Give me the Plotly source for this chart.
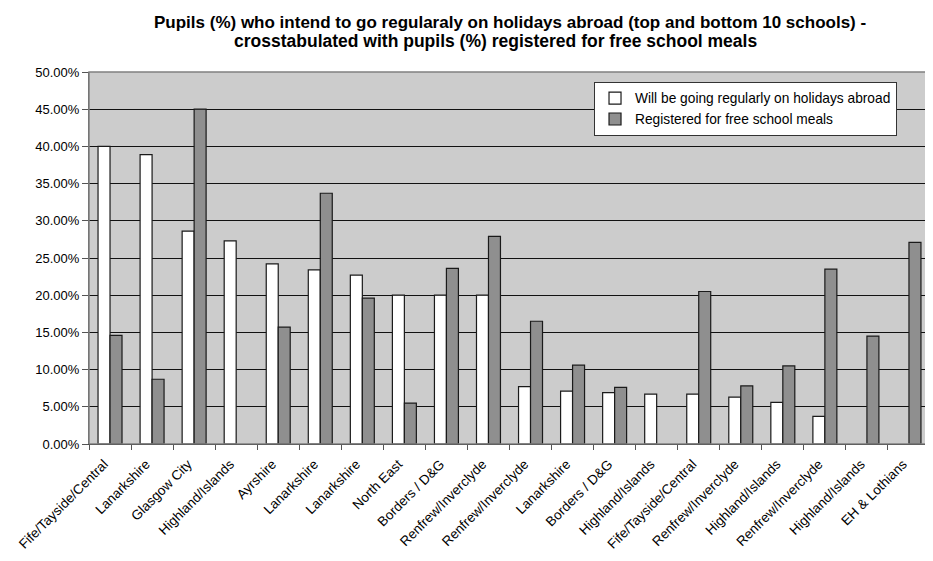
import plotly.graph_objects as go

categories = ["Fife/Tayside/Central", "Lanarkshire", "Glasgow City", "Highland/Islands",
              "Ayrshire", "Lanarkshire", "Lanarkshire", "North East", "Borders / D&G",
              "Renfrew/Inverclyde", "Renfrew/Inverclyde", "Lanarkshire", "Borders / D&G",
              "Highland/Islands", "Fife/Tayside/Central", "Renfrew/Inverclyde",
              "Highland/Islands", "Renfrew/Inverclyde", "Highland/Islands", "EH & Lothians"]

# None = no bar shown in the reference
holidays_abroad = [40.0, 38.9, 28.6, 27.3, 24.2, 23.4, 22.7, 20.0, 20.0, 20.0,
                   7.7, 7.1, 6.9, 6.7, 6.7, 6.3, 5.6, 3.7, None, None]

free_school_meals = [14.6, 8.7, 45.0, None, 15.7, 33.7, 19.6, 5.5, 23.6, 27.9,
                     16.5, 10.6, 7.6, None, 20.5, 7.8, 10.5, 23.5, 14.5, 27.1]

y_ticks = [0, 5, 10, 15, 20, 25, 30, 35, 40, 45, 50]

title_lines = ["Pupils (%) who intend to go regularaly on holidays abroad (top and bottom 10 schools) -",
               "crosstabulated with pupils (%) registered for free school meals"]

x_pos = list(range(len(categories)))

FONT = "Liberation Sans, Arial, sans-serif"

fig = go.Figure()
fig.add_trace(go.Bar(
    x=x_pos, y=holidays_abroad, name="Will be going regularly on holidays abroad",
    marker=dict(color="#FFFFFF", line=dict(color="#1A1A1A", width=1.2)),
))
fig.add_trace(go.Bar(
    x=x_pos, y=free_school_meals, name="Registered for free school meals",
    marker=dict(color="#8F8F8F", line=dict(color="#1A1A1A", width=1.2)),
))

# the page body adds an 8px margin, so the figure is sized to fit the window
fig.update_layout(
    width=925, height=553,
    margin=dict(l=81, r=3, t=64, b=117),
    paper_bgcolor="#FFFFFF",
    plot_bgcolor="#CCCCCC",
    barmode="group",
    bargap=0.43,
    bargroupgap=0.0,
    font=dict(family=FONT, size=13, color="#000000"),
    legend=dict(
        x=0.6005, xanchor="left", y=0.974, yanchor="top",
        bgcolor="#FFFFFF", bordercolor="#333333", borderwidth=1,
        font=dict(family=FONT, size=13.75, color="#000000"),
        traceorder="normal",
        tracegroupgap=0,
    ),
    showlegend=True,
)

# two-line chart title (line centres as in the reference)
fig.add_annotation(text=title_lines[0], xref="paper", yref="paper",
                   x=0.5, y=1 + 50 / 372, xanchor="center", yanchor="middle",
                   showarrow=False, font=dict(family=FONT, size=17, color="#000000", weight="bold"))
fig.add_annotation(text=title_lines[1], xref="paper", yref="paper",
                   x=0.4834, y=1 + 31 / 372, xanchor="center", yanchor="middle",
                   showarrow=False, font=dict(family=FONT, size=17.5, color="#000000", weight="bold"))

fig.update_xaxes(
    range=[-0.5, len(categories) - 0.5],
    tickmode="array", tickvals=x_pos, ticktext=categories,
    tickangle=-45, ticks="",
    ticklabelshift=-6, ticklabelstandoff=6,
    showgrid=False, zeroline=False,
    showline=True, linecolor="#000000", linewidth=1,
    automargin=False,
    minor=dict(ticks="outside", tick0=-0.5, dtick=1, ticklen=5, tickcolor="#555555", showgrid=False),
    tickfont=dict(family=FONT, size=13.5, color="#000000"),
)

fig.update_yaxes(
    range=[0, 50],
    tickmode="array", tickvals=y_ticks,
    ticktext=[f"{v:.2f}%" for v in y_ticks],
    ticks="outside", ticklen=6, tickcolor="#555555",
    showgrid=True, gridcolor="#111111", gridwidth=1,
    zeroline=False,
    showline=True, linecolor="#555555", linewidth=1,
    automargin=False,
    tickfont=dict(family=FONT, size=13, color="#000000"),
)

# plot-area border (top and right)
fig.add_shape(type="rect", xref="paper", yref="paper", x0=0, y0=0, x1=1, y1=1,
              line=dict(color="#808080", width=1.5), layer="above")

fig.write_html("out.html")
